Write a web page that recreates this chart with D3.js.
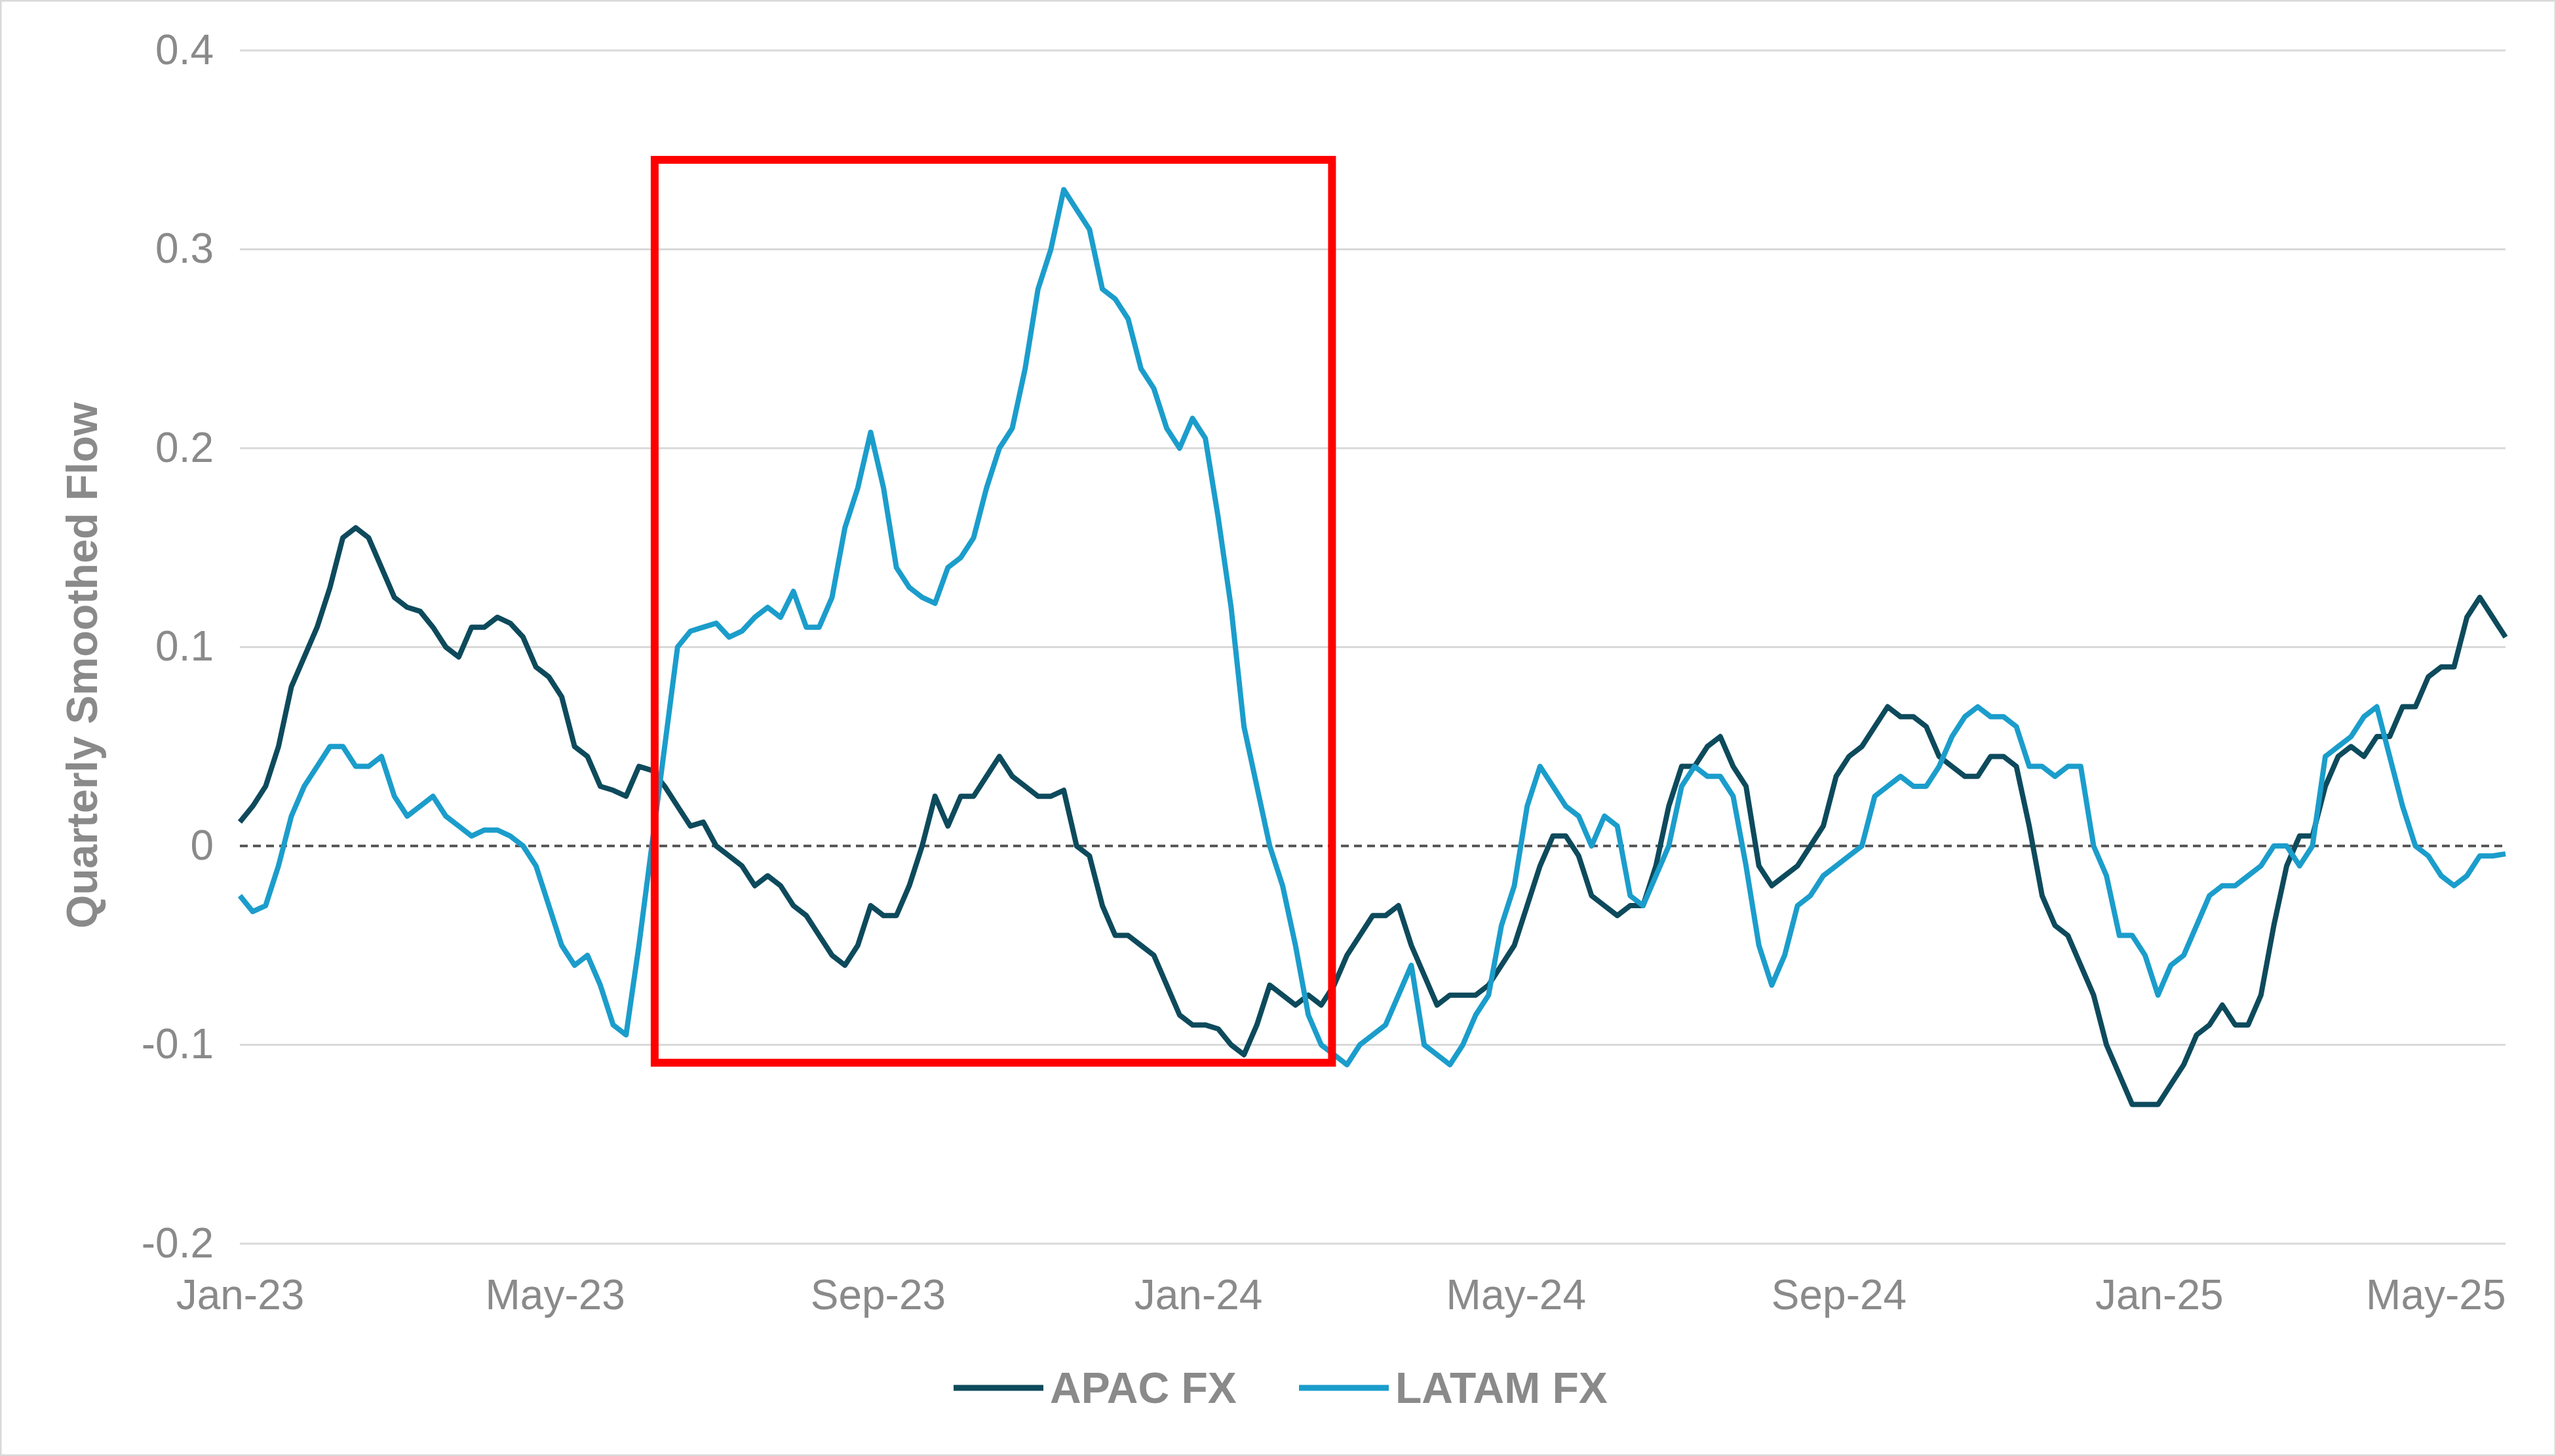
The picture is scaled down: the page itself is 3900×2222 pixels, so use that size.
<!DOCTYPE html>
<html><head><meta charset="utf-8">
<script src="https://cdn.jsdelivr.net/npm/d3@7"></script>
<style>body{margin:0;background:#fff}svg{display:block;font-family:Arial,"Liberation Sans",sans-serif}</style>
</head><body>
<svg id="c" width="3900" height="2222"></svg>
<script>
const startDate = "2023-01-01";
const endDate = "2025-05-13";
const tickLabels = ["Jan-23","May-23","Sep-23","Jan-24","May-24","Sep-24","Jan-25","May-25"];
const tickDates = ["2023-01-01","2023-05-01","2023-09-01","2024-01-01","2024-05-01","2024-09-01","2025-01-01","2025-05-01"];
const yTicks = [-0.2,-0.1,0,0.1,0.2,0.3,0.4];
const yTickLabels = ["-0.2","-0.1","0","0.1","0.2","0.3","0.4"];
const seriesNames = ["APAC FX","LATAM FX"];
const apac = [0.012,0.02,0.03,0.05,0.08,0.095,0.11,0.13,0.155,0.16,0.155,0.14,0.125,0.12,0.118,0.11,0.1,0.095,0.11,0.11,0.115,0.112,0.105,0.09,0.085,0.075,0.05,0.045,0.03,0.028,0.025,0.04,0.038,0.03,0.02,0.01,0.012,0.0,-0.005,-0.01,-0.02,-0.015,-0.02,-0.03,-0.035,-0.045,-0.055,-0.06,-0.05,-0.03,-0.035,-0.035,-0.02,0.0,0.025,0.01,0.025,0.025,0.035,0.045,0.035,0.03,0.025,0.025,0.028,0.0,-0.005,-0.03,-0.045,-0.045,-0.05,-0.055,-0.07,-0.085,-0.09,-0.09,-0.092,-0.1,-0.105,-0.09,-0.07,-0.075,-0.08,-0.075,-0.08,-0.07,-0.055,-0.045,-0.035,-0.035,-0.03,-0.05,-0.065,-0.08,-0.075,-0.075,-0.075,-0.07,-0.06,-0.05,-0.03,-0.01,0.005,0.005,-0.005,-0.025,-0.03,-0.035,-0.03,-0.03,-0.01,0.02,0.04,0.04,0.05,0.055,0.04,0.03,-0.01,-0.02,-0.015,-0.01,0.0,0.01,0.035,0.045,0.05,0.06,0.07,0.065,0.065,0.06,0.045,0.04,0.035,0.035,0.045,0.045,0.04,0.01,-0.025,-0.04,-0.045,-0.06,-0.075,-0.1,-0.115,-0.13,-0.13,-0.13,-0.12,-0.11,-0.095,-0.09,-0.08,-0.09,-0.09,-0.075,-0.04,-0.01,0.005,0.005,0.03,0.045,0.05,0.045,0.055,0.055,0.07,0.07,0.085,0.09,0.09,0.115,0.125,0.115,0.105];
const latam = [-0.025,-0.033,-0.03,-0.01,0.015,0.03,0.04,0.05,0.05,0.04,0.04,0.045,0.025,0.015,0.02,0.025,0.015,0.01,0.005,0.008,0.008,0.005,0.0,-0.01,-0.03,-0.05,-0.06,-0.055,-0.07,-0.09,-0.095,-0.05,0.0,0.05,0.1,0.108,0.11,0.112,0.105,0.108,0.115,0.12,0.115,0.128,0.11,0.11,0.125,0.16,0.18,0.208,0.18,0.14,0.13,0.125,0.122,0.14,0.145,0.155,0.18,0.2,0.21,0.24,0.28,0.3,0.33,0.32,0.31,0.28,0.275,0.265,0.24,0.23,0.21,0.2,0.215,0.205,0.165,0.12,0.06,0.03,0.0,-0.02,-0.05,-0.085,-0.1,-0.105,-0.11,-0.1,-0.095,-0.09,-0.075,-0.06,-0.1,-0.105,-0.11,-0.1,-0.085,-0.075,-0.04,-0.02,0.02,0.04,0.03,0.02,0.015,0.0,0.015,0.01,-0.025,-0.03,-0.015,0.0,0.03,0.04,0.035,0.035,0.025,-0.01,-0.05,-0.07,-0.055,-0.03,-0.025,-0.015,-0.01,-0.005,0.0,0.025,0.03,0.035,0.03,0.03,0.04,0.055,0.065,0.07,0.065,0.065,0.06,0.04,0.04,0.035,0.04,0.04,0.0,-0.015,-0.045,-0.045,-0.055,-0.075,-0.06,-0.055,-0.04,-0.025,-0.02,-0.02,-0.015,-0.01,0.0,0.0,-0.01,0.0,0.045,0.05,0.055,0.065,0.07,0.045,0.02,0.0,-0.005,-0.015,-0.02,-0.015,-0.005,-0.005,-0.004];
const boxDates = ["2023-06-08","2024-02-21"];
const boxValues = [0.345,-0.109];
const colors = ["#0d4a5c","#1b9dcb"];

const W=3900,H=2222,m={l:366,r:77,t:77,b:324};
const svg=d3.select("#c");
svg.append("rect").attr("x",1).attr("y",1).attr("width",W-2).attr("height",H-2).attr("fill","#fff").attr("stroke","#d9d9d9").attr("stroke-width",3);
const p=d3.timeParse("%Y-%m-%d");
const x=d3.scaleTime().domain([p(startDate),p(endDate)]).range([m.l,W-m.r]);
const y=d3.scaleLinear().domain([-0.2,0.4]).range([H-m.b,m.t]);
const n=apac.length, span=(p(endDate)-p(startDate));
const dateAt=i=>new Date(+p(startDate)+span*i/(n-1));
const FONT="Arial,'Liberation Sans',sans-serif", GREY="#8a8a8a";

const g=svg.append("g");
g.selectAll(".grid").data(yTicks.filter(v=>v!==0)).join("line")
 .attr("x1",m.l).attr("x2",W-m.r).attr("y1",d=>y(d)).attr("y2",d=>y(d))
 .attr("stroke","#d9d9d9").attr("stroke-width",3);
g.append("line").attr("x1",m.l).attr("x2",W-m.r).attr("y1",y(0)).attr("y2",y(0))
 .attr("stroke","#595959").attr("stroke-width",4).attr("stroke-dasharray","12,8");

const ya=d3.axisLeft(y).tickValues(yTicks).tickSize(0).tickPadding(40).tickFormat((d,i)=>yTickLabels[i]);
const yg=svg.append("g").attr("transform",`translate(${m.l},0)`).call(ya);
yg.select(".domain").remove();
yg.selectAll("text").attr("font-size",64).attr("fill",GREY).attr("font-family",FONT);

const xa=d3.axisBottom(x).tickValues(tickDates.map(p)).tickSize(0).tickPadding(55).tickFormat((d,i)=>tickLabels[i]);
const xg=svg.append("g").attr("transform",`translate(0,${H-m.b})`).call(xa);
xg.select(".domain").remove();
xg.selectAll("text").attr("font-size",64).attr("fill",GREY).attr("font-family",FONT);
xg.selectAll("text").filter((d,i)=>i===tickLabels.length-1).attr("text-anchor","end").attr("dx",(W-m.r)-x(p(tickDates[7])));

svg.append("text").attr("transform",`translate(148,${(m.t+H-m.b)/2+28}) rotate(-90)`).attr("text-anchor","middle")
 .attr("font-size",66).attr("font-weight","bold").attr("fill",GREY).attr("font-family",FONT).text("Quarterly Smoothed Flow");

const line=d3.line().x((d,i)=>x(dateAt(i))).y(d=>y(d)).curve(d3.curveLinear);
[apac,latam].forEach((s,k)=>{
  svg.append("path").datum(s).attr("d",line).attr("fill","none").attr("stroke",colors[k]).attr("stroke-width",8).attr("stroke-linejoin","round");
});

svg.append("rect").attr("x",x(p(boxDates[0]))).attr("y",y(boxValues[0]))
 .attr("width",x(p(boxDates[1]))-x(p(boxDates[0]))).attr("height",y(boxValues[1])-y(boxValues[0]))
 .attr("fill","none").attr("stroke","#ff0000").attr("stroke-width",12);

const leg=svg.append("g");
const lx=[1455,1982];
seriesNames.forEach((nm,k)=>{
  leg.append("line").attr("x1",lx[k]).attr("x2",lx[k]+137).attr("y1",2118).attr("y2",2118).attr("stroke",colors[k]).attr("stroke-width",9);
  leg.append("text").attr("x",lx[k]+147).attr("y",2141).attr("font-size",66).attr("font-weight","bold").attr("fill",GREY).attr("font-family",FONT).text(nm);
});
</script>
</body></html>
